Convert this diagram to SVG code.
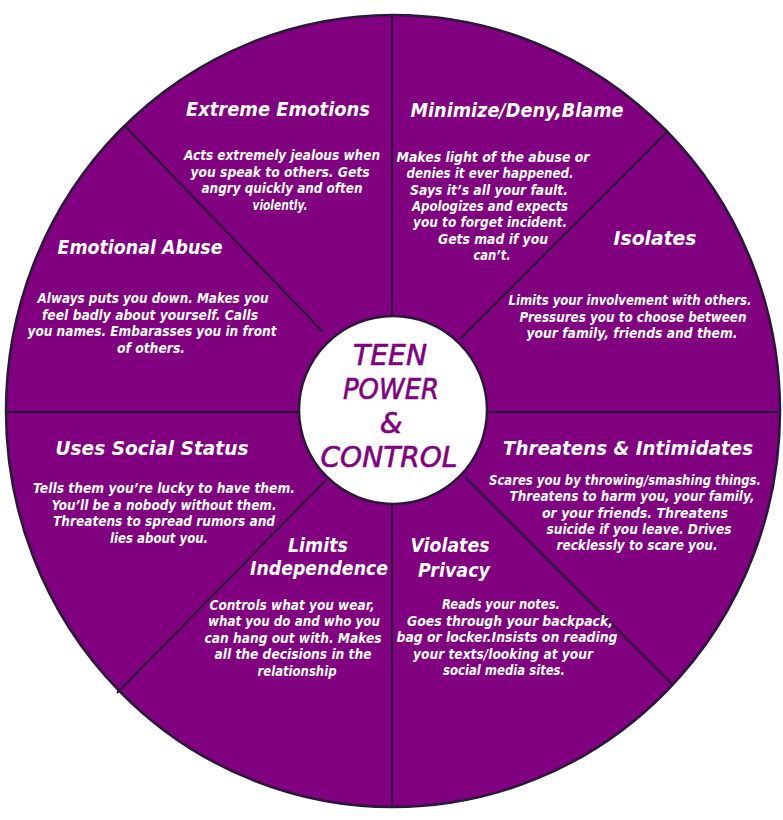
<svg xmlns="http://www.w3.org/2000/svg" width="783" height="820" viewBox="0 0 783 820">
<style>
.t{font-family:"DejaVu Sans","Liberation Sans",sans-serif;font-weight:bold;font-style:italic;fill:#ffffff;text-anchor:middle;font-size:20px}
.b{font-family:"DejaVu Sans","Liberation Sans",sans-serif;font-weight:bold;font-style:italic;fill:#ffffff;text-anchor:middle;font-size:13.5px}
.c{font-family:"DejaVu Sans","Liberation Sans",sans-serif;font-style:italic;fill:#800080;text-anchor:middle;font-size:29px;stroke:#800080;stroke-width:0.6}
.ln{stroke:#2a1838;stroke-width:2;fill:none}
</style>
<rect width="783" height="820" fill="#ffffff"/>
<g id="wheel">
<ellipse cx="393" cy="411" rx="387" ry="396" fill="#800080" stroke="#2a1838" stroke-width="2.5"/>
</g>
<g id="connectors">
<line class="ln" x1="392" y1="15" x2="392" y2="807"/>
<line class="ln" x1="6" y1="412" x2="780" y2="412"/>
<line class="ln" x1="125" y1="126" x2="323" y2="332"/>
<line class="ln" x1="667" y1="132" x2="460" y2="339"/>
<line class="ln" x1="672" y1="684" x2="465" y2="477"/>
<line class="ln" x1="117" y1="693" x2="326" y2="480"/>
</g>
<g id="center">
<circle cx="393" cy="410" r="94" fill="#ffffff" stroke="#2a1838" stroke-width="2.5"/>
<text class="c" x="390" y="365" textLength="74" lengthAdjust="spacingAndGlyphs">TEEN</text>
<text class="c" x="391" y="399" textLength="96" lengthAdjust="spacingAndGlyphs">POWER</text>
<text class="c" x="391" y="433">&amp;</text>
<text class="c" x="389" y="467" textLength="137" lengthAdjust="spacingAndGlyphs">CONTROL</text>
</g>
<g id="extreme-emotions">
<text class="t" x="278" y="116" textLength="184" lengthAdjust="spacingAndGlyphs">Extreme Emotions</text>
<text class="b" x="282" y="160" textLength="196" lengthAdjust="spacingAndGlyphs">Acts extremely jealous when</text>
<text class="b" x="280" y="177" textLength="179" lengthAdjust="spacingAndGlyphs">you speak to others. Gets</text>
<text class="b" x="282" y="193" textLength="161" lengthAdjust="spacingAndGlyphs">angry quickly and often</text>
<text class="b" x="280" y="210" textLength="55" lengthAdjust="spacingAndGlyphs">violently.</text>
</g>
<g id="minimize-deny-blame">
<text class="t" x="517" y="117" textLength="213" lengthAdjust="spacingAndGlyphs">Minimize/Deny,Blame</text>
<text class="b" x="493" y="162" textLength="193" lengthAdjust="spacingAndGlyphs">Makes light of the abuse or</text>
<text class="b" x="490" y="178" textLength="167" lengthAdjust="spacingAndGlyphs">denies it ever happened.</text>
<text class="b" x="489" y="195" textLength="158" lengthAdjust="spacingAndGlyphs">Says it’s all your fault.</text>
<text class="b" x="490" y="211" textLength="156" lengthAdjust="spacingAndGlyphs">Apologizes and expects</text>
<text class="b" x="490" y="227" textLength="154" lengthAdjust="spacingAndGlyphs">you to forget incident.</text>
<text class="b" x="493" y="244" textLength="110" lengthAdjust="spacingAndGlyphs">Gets mad if you</text>
<text class="b" x="492" y="260" textLength="37" lengthAdjust="spacingAndGlyphs">can’t.</text>
</g>
<g id="emotional-abuse">
<text class="t" x="140" y="254" textLength="165" lengthAdjust="spacingAndGlyphs">Emotional Abuse</text>
<text class="b" x="153" y="303" textLength="231" lengthAdjust="spacingAndGlyphs">Always puts you down. Makes you</text>
<text class="b" x="150" y="320" textLength="216" lengthAdjust="spacingAndGlyphs">feel badly about yourself. Calls</text>
<text class="b" x="152" y="336" textLength="249" lengthAdjust="spacingAndGlyphs">you names. Embarasses you in front</text>
<text class="b" x="151" y="353" textLength="68" lengthAdjust="spacingAndGlyphs">of others.</text>
</g>
<g id="isolates">
<text class="t" x="655" y="245" textLength="83" lengthAdjust="spacingAndGlyphs">Isolates</text>
<text class="b" x="630" y="305" textLength="243" lengthAdjust="spacingAndGlyphs">Limits your involvement with others.</text>
<text class="b" x="633" y="322" textLength="227" lengthAdjust="spacingAndGlyphs">Pressures you to choose between</text>
<text class="b" x="632" y="338" textLength="211" lengthAdjust="spacingAndGlyphs">your family, friends and them.</text>
</g>
<g id="uses-social-status">
<text class="t" x="152" y="455" textLength="193" lengthAdjust="spacingAndGlyphs">Uses Social Status</text>
<text class="b" x="164" y="493" textLength="262" lengthAdjust="spacingAndGlyphs">Tells them you’re lucky to have them.</text>
<text class="b" x="164" y="510" textLength="225" lengthAdjust="spacingAndGlyphs">You’ll be a nobody without them.</text>
<text class="b" x="164" y="526" textLength="222" lengthAdjust="spacingAndGlyphs">Threatens to spread rumors and</text>
<text class="b" x="159" y="543" textLength="98" lengthAdjust="spacingAndGlyphs">lies about you.</text>
</g>
<g id="threatens-intimidates">
<text class="t" x="628" y="455" textLength="250" lengthAdjust="spacingAndGlyphs">Threatens &amp; Intimidates</text>
<text class="b" x="625" y="485" textLength="272" lengthAdjust="spacingAndGlyphs">Scares you by throwing/smashing things.</text>
<text class="b" x="632" y="501" textLength="245" lengthAdjust="spacingAndGlyphs">Threatens to harm you, your family,</text>
<text class="b" x="635" y="518" textLength="186" lengthAdjust="spacingAndGlyphs">or your friends. Threatens</text>
<text class="b" x="639" y="534" textLength="185" lengthAdjust="spacingAndGlyphs">suicide if you leave. Drives</text>
<text class="b" x="637" y="550" textLength="161" lengthAdjust="spacingAndGlyphs">recklessly to scare you.</text>
</g>
<g id="limits-independence">
<text class="t" x="318" y="552" textLength="60" lengthAdjust="spacingAndGlyphs">Limits</text>
<text class="t" x="319" y="575" textLength="138" lengthAdjust="spacingAndGlyphs">Independence</text>
<text class="b" x="292" y="610" textLength="165" lengthAdjust="spacingAndGlyphs">Controls what you wear,</text>
<text class="b" x="294" y="626" textLength="172" lengthAdjust="spacingAndGlyphs">what you do and who you</text>
<text class="b" x="293" y="643" textLength="177" lengthAdjust="spacingAndGlyphs">can hang out with. Makes</text>
<text class="b" x="293" y="659" textLength="157" lengthAdjust="spacingAndGlyphs">all the decisions in the</text>
<text class="b" x="297" y="676" textLength="79" lengthAdjust="spacingAndGlyphs">relationship</text>
</g>
<g id="violates-privacy">
<text class="t" x="450" y="552" textLength="79" lengthAdjust="spacingAndGlyphs">Violates</text>
<text class="t" x="454" y="577" textLength="72" lengthAdjust="spacingAndGlyphs">Privacy</text>
<text class="b" x="501" y="609" textLength="118" lengthAdjust="spacingAndGlyphs">Reads your notes.</text>
<text class="b" x="510" y="626" textLength="206" lengthAdjust="spacingAndGlyphs">Goes through your backpack,</text>
<text class="b" x="507" y="642" textLength="221" lengthAdjust="spacingAndGlyphs">bag or locker.Insists on reading</text>
<text class="b" x="503" y="659" textLength="180" lengthAdjust="spacingAndGlyphs">your texts/looking at your</text>
<text class="b" x="504" y="675" textLength="122" lengthAdjust="spacingAndGlyphs">social media sites.</text>
</g>
</svg>
